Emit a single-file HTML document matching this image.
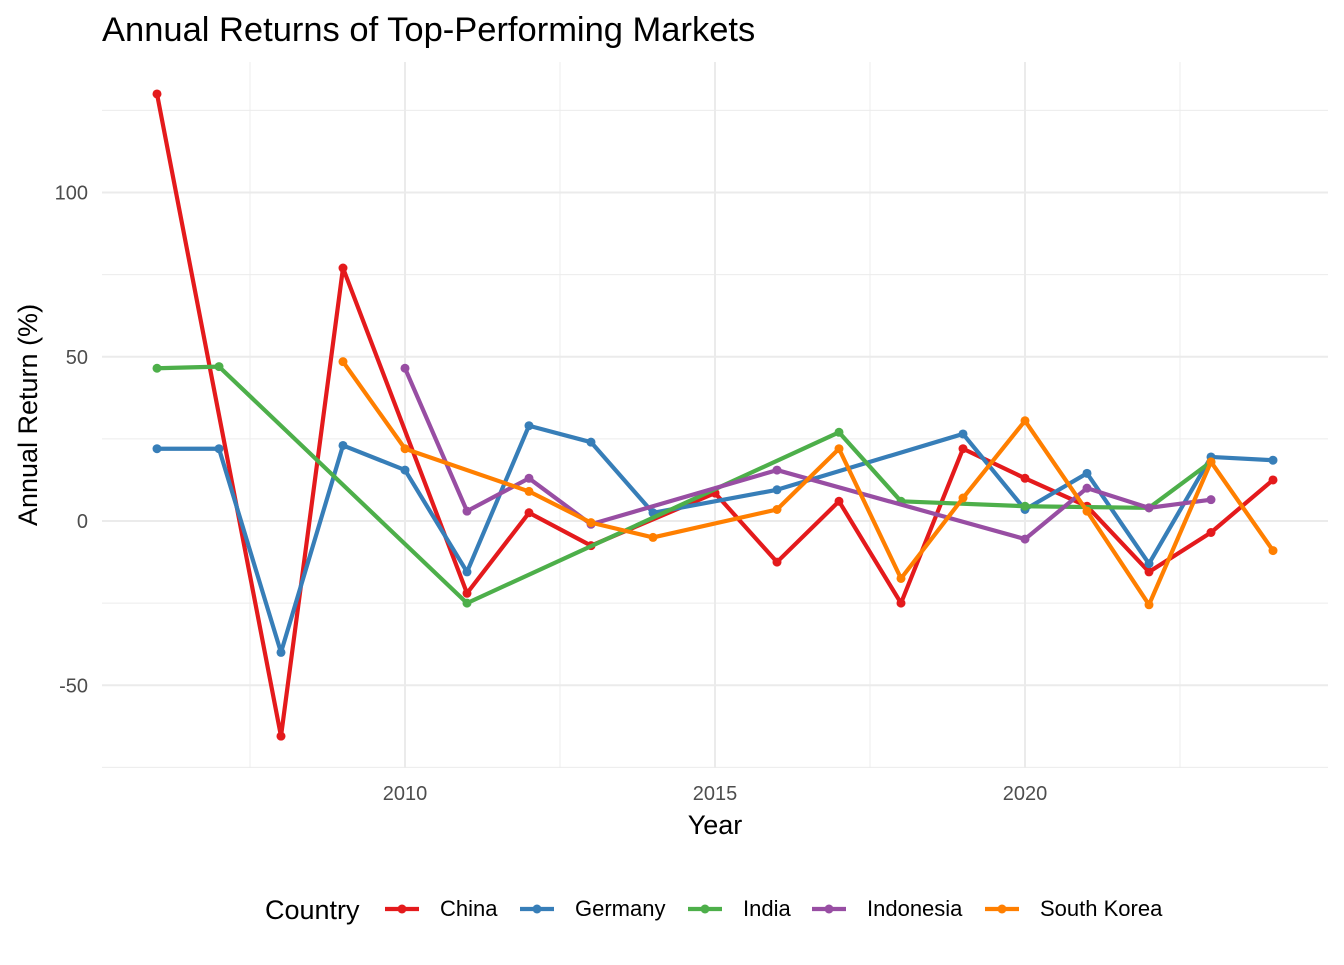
<!DOCTYPE html>
<html><head><meta charset="utf-8"><style>
body{margin:0;background:#fff;}
svg text{font-family:"Liberation Sans",Arial,sans-serif;}
</style></head><body>
<svg id="chart" width="1344" height="960" xmlns="http://www.w3.org/2000/svg">
<text x="102" y="41" font-size="34.5" fill="#000">Annual Returns of Top-Performing Markets</text>
<g id="grid"></g>
<g id="series"></g>
<g id="axes"></g>
<text x="715" y="834" font-size="27" text-anchor="middle">Year</text>
<text transform="translate(37,415) rotate(-90)" font-size="27" text-anchor="middle">Annual Return (%)</text>
<g id="legend"></g>
</svg>
<script>
const years=[2006,2007,2008,2009,2010,2011,2012,2013,2014,2015,2016,2017,2018,2019,2020,2021,2022,2023,2024];
const seriesNames=["China","Germany","India","Indonesia","South Korea"];
const colors=["#E41A1C","#377EB8","#4DAF4A","#984EA3","#FF7F00"];
const china=[130,null,-65.5,77,null,-22,2.5,-7.5,null,8.5,-12.5,6,-25,22,13,4.5,-15.5,-3.5,12.5];
const germany=[22,22,-40,23,15.5,-15.5,29,24,2.5,null,9.5,null,null,26.5,3.5,14.5,-13,19.5,18.5];
const india=[46.5,47,null,null,null,-25,null,null,null,null,null,27,6,null,4.5,null,4,18,null];
const indonesia=[null,null,null,null,46.5,3,13,-1,null,null,15.5,null,null,null,-5.5,10,4,6.5,null];
const korea=[null,null,null,48.5,22,null,9,-0.5,-5,null,3.5,22,-17.5,7,30.5,3,-25.5,18,-9];
const allSeries=[china,germany,india,indonesia,korea];
const xTicks=[2010,2015,2020];
const xMinor=[2007.5,2012.5,2017.5,2022.5];
const yTicks=[-50,0,50,100];
const yMinor=[-75,-25,25,75,125];
const L=102,R=1328,T=62,B=768;
const xs=y=>405+(y-2010)*62;
const ys=v=>521-v*3.285;
const NS="http://www.w3.org/2000/svg";
function mk(tag,attrs,parent){const e=document.createElementNS(NS,tag);for(const k in attrs)e.setAttribute(k,attrs[k]);parent.appendChild(e);return e;}
const grid=document.getElementById('grid'),axes=document.getElementById('axes'),ser=document.getElementById('series'),leg=document.getElementById('legend');
yMinor.forEach(v=>{const l=mk('line',{x1:L,x2:R,y1:ys(v),y2:ys(v),stroke:'#ececec','stroke-width':1},grid);});
xMinor.forEach(v=>{const l=mk('line',{x1:xs(v),x2:xs(v),y1:T,y2:B,stroke:'#ececec','stroke-width':1},grid);});
yTicks.forEach(v=>{const l=mk('line',{x1:L,x2:R,y1:ys(v),y2:ys(v),stroke:'#ebebeb','stroke-width':2},grid);
const t=mk('text',{x:88,y:ys(v)+7,'font-size':20,fill:'#4d4d4d','text-anchor':'end'},axes);t.textContent=v;});
xTicks.forEach(v=>{const l=mk('line',{x1:xs(v),x2:xs(v),y1:T,y2:B,stroke:'#ebebeb','stroke-width':2},grid);
const t=mk('text',{x:xs(v),y:800,'font-size':20,fill:'#4d4d4d','text-anchor':'middle'},axes);t.textContent=v;});
allSeries.forEach((d,i)=>{
 const pts=[];d.forEach((v,j)=>{if(v!==null)pts.push([xs(years[j]),ys(v)]);});
 const p=mk('polyline',{points:pts.map(q=>q.join(',')).join(' '),fill:'none',stroke:colors[i],'stroke-width':4.2,'stroke-linejoin':'round'},ser);
 
 
 pts.forEach(q=>{const c=mk('circle',{cx:q[0],cy:q[1],r:4.5,fill:colors[i]},ser);
 
 });
});
const lt=mk('text',{x:265,y:919,'font-size':27},leg);lt.textContent='Country';


const lx=[385,520,688,812,985];
seriesNames.forEach((n,i)=>{
 const g=mk('g',{},leg);
 
 
 mk('line',{x1:lx[i],x2:lx[i]+34,y1:909,y2:909,stroke:colors[i],'stroke-width':4.2},g);
 mk('circle',{cx:lx[i]+17,cy:909,r:4.5,fill:colors[i]},g);
 const t=mk('text',{x:lx[i]+55,y:916,'font-size':22},g);t.textContent=n;
});
</script>
</body></html>
